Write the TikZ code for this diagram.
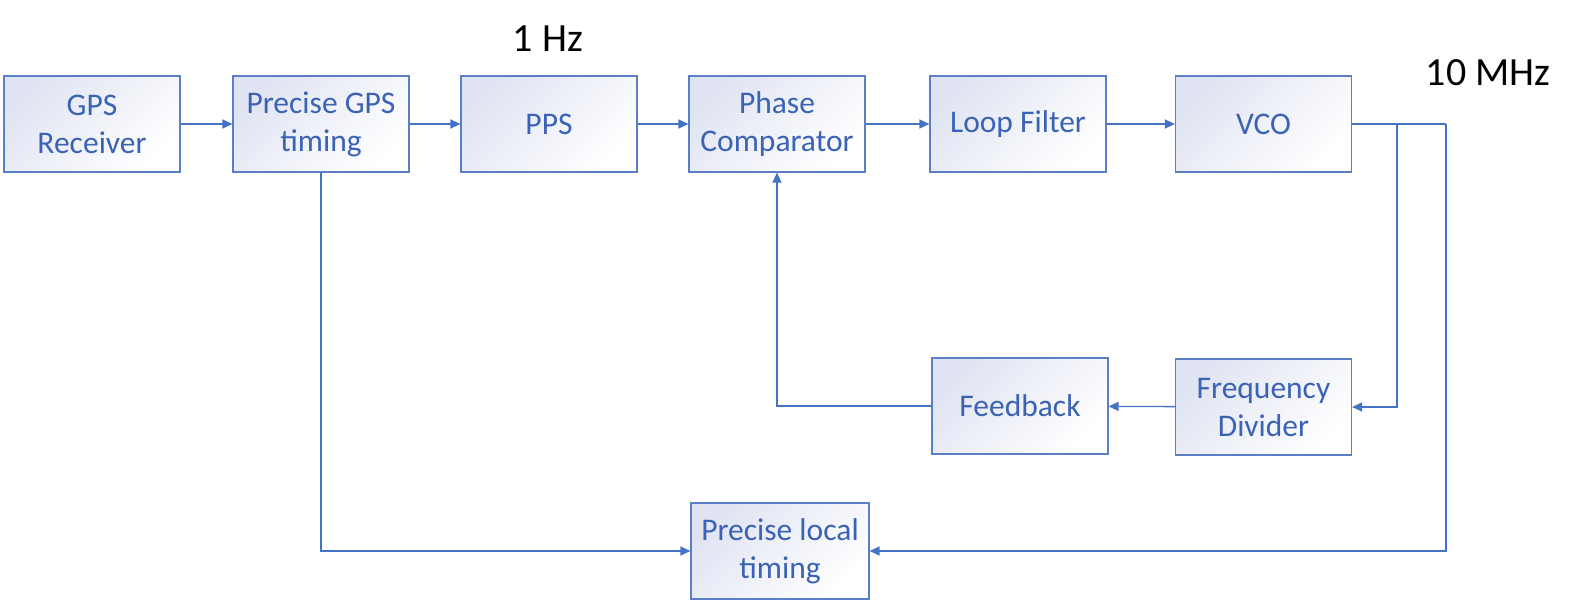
\documentclass[tikz,border=0pt]{standalone}
\usepackage{fontspec}
\setmainfont{Carlito}
\usetikzlibrary{arrows.meta}
\definecolor{txt}{HTML}{3A62B5}
\definecolor{brd}{HTML}{5A7FC8}
\definecolor{ln}{HTML}{4472C4}
\definecolor{lav}{HTML}{E0E4F2}
\begin{document}
\begin{tikzpicture}[x=1pt,y=1pt,
  blk/.style={draw=brd, line width=1.2pt, top color=lav, bottom color=white, shading angle=45,
    minimum width=176pt, minimum height=96pt, inner sep=0pt, align=center, text=txt,
    font=\fontsize{31.5}{38}\selectfont},
  conn/.style={draw=ln, line width=1.3pt, -{Triangle[length=10pt,width=9pt]}},
  wire/.style={draw=ln, line width=1.3pt},
  lbl/.style={font=\fontsize{40}{44}\selectfont, text=black, inner sep=0pt}]
\useasboundingbox (0,0) rectangle (1574,-605);
\node[blk] (gps) at (92,-124) {GPS\\Receiver};
\node[blk] (pgt) at (321,-124) {Precise GPS\\timing};
\node[blk] (pps) at (549,-124) {PPS};
\node[blk] (pc) at (777,-124) {Phase\\Comparator};
\node[blk] (lf) at (1018,-124) {Loop Filter};
\node[blk] (vco) at (1263.5,-124) {VCO};
\node[blk] (fd) at (1263.5,-407) {Frequency\\Divider};
\node[blk] (fb) at (1020,-406) {Feedback};
\node[blk, minimum width=178pt] (plt) at (780,-551) {Precise local\\timing};
\node[lbl] (hz) at (548,-39) {1 Hz};
\node[lbl] (mhz) at (1488,-73) {10 MHz};
\coordinate (j1) at (1397,-124);
\coordinate (j2) at (1446,-124);
\draw[conn] (gps) -- (pgt);
\draw[conn] (pgt) -- (pps);
\draw[conn] (pps) -- (pc);
\draw[conn] (pc) -- (lf);
\draw[conn] (lf) -- (vco);
\draw[wire] (vco.east) -- (j2);
\draw[conn] (j1) |- (fd.east);
\draw[conn] (j2) |- (plt.east);
\draw[conn] (fd) -- (fb);
\draw[conn] (fb.west) -| (pc.south);
\draw[conn] (pgt.south) |- (plt.west);
\end{tikzpicture}
\end{document}
